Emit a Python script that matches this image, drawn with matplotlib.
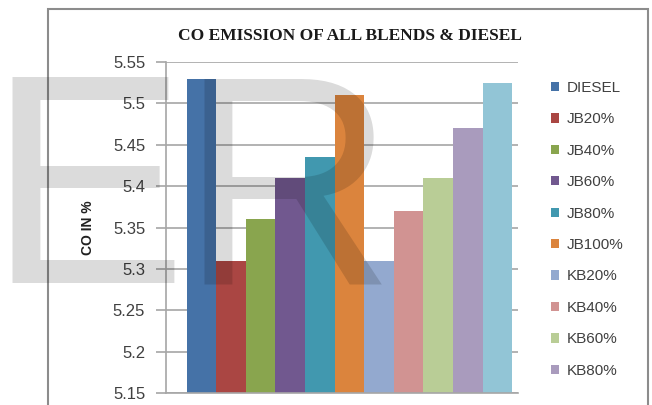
import matplotlib
matplotlib.use("Agg")
import matplotlib.pyplot as plt
from matplotlib.patches import Patch, Rectangle

# valores
blends = ["DIESEL", "JB20%", "JB40%", "JB60%", "JB80%", "JB100%",
          "KB20%", "KB40%", "KB60%", "KB80%", "KB100%"]
co_values = [5.53, 5.31, 5.36, 5.41, 5.435, 5.51, 5.31, 5.37, 5.41, 5.47, 5.525]
colors = ["#4572A7", "#AA4643", "#89A54E", "#71588F", "#4198AF", "#DB843D",
          "#93A9CF", "#D19392", "#B9CD96", "#A99BBD", "#92C5D6"]
yticks = [5.15, 5.2, 5.25, 5.3, 5.35, 5.4, 5.45, 5.5, 5.55]
legend_shown = 10  # a ultima entrada nao cabe na legenda

W, H = 652, 405
fig = plt.figure(figsize=(W / 100, H / 100), dpi=100)
fig.patch.set_facecolor("white")

# moldura externa do grafico (cortada embaixo)
fig.patches.append(Rectangle((48 / W, -0.1), 600 / W, 1 - 9 / H + 0.1,
                             transform=fig.transFigure, fill=False,
                             edgecolor="#8C8C8C", linewidth=1.5))

ax = fig.add_axes([166 / W, 12 / H, 352 / W, 331 / H])
x = list(range(len(blends)))
ax.bar(x, co_values, width=1.0, color=colors, zorder=2)
ax.set_xlim(-1.2, len(blends) - 0.3)
ax.set_ylim(5.15, 5.55)
ax.set_yticks(yticks)
ax.set_yticklabels(["%g" % v for v in yticks])
ax.set_xticks([])
ax.yaxis.grid(True, color="#A6A6A6", linewidth=1.2, zorder=0)
ax.set_axisbelow(True)
for s in ["top", "right"]:
    ax.spines[s].set_visible(False)
ax.spines["left"].set_color("#A6A6A6")
ax.spines["bottom"].set_color("#A6A6A6")
ax.spines["left"].set_linewidth(1.2)
ax.spines["bottom"].set_linewidth(1.2)
ax.tick_params(axis="y", length=7, width=1.2, color="#A6A6A6", pad=8,
               labelsize=12, labelcolor="#404040")
for t in ax.get_yticklabels():
    t.set_fontfamily("Liberation Sans")

ax.set_ylabel("CO IN %", fontsize=10, fontweight="bold",
              fontfamily="Liberation Sans", color="#202020")
ax.yaxis.set_label_coords(-0.202, 0.5)

fig.text(350 / W, 1 - 36 / H, "CO EMISSION OF ALL BLENDS & DIESEL",
         ha="center", va="center", fontsize=12.5, fontweight="bold",
         fontfamily="Liberation Serif", color="#1a1a1a")

handles = [Patch(facecolor=c, edgecolor="none") for c in colors[:legend_shown]]
fig.legend(handles, blends[:legend_shown], loc="upper left",
           bbox_to_anchor=(551 / W, 1 - 81 / H), frameon=False,
           prop={"family": "Liberation Sans", "size": 11},
           handlelength=0.55, handleheight=0.55, handletextpad=0.5,
           labelspacing=1.14, borderpad=0, borderaxespad=0,
           labelcolor="#404040")

# marca d'agua (letras separadas para acertar a posicao)
wm = dict(ha="left", va="baseline", fontsize=215, fontfamily="Liberation Sans",
          color="black", alpha=0.14, zorder=10)
fig.text(-12 / W, 1 - 283 / H, "E", **wm)
fig.text(179 / W, 1 - 283 / H, "R", **wm)

fig.savefig("out.png", dpi=100)
